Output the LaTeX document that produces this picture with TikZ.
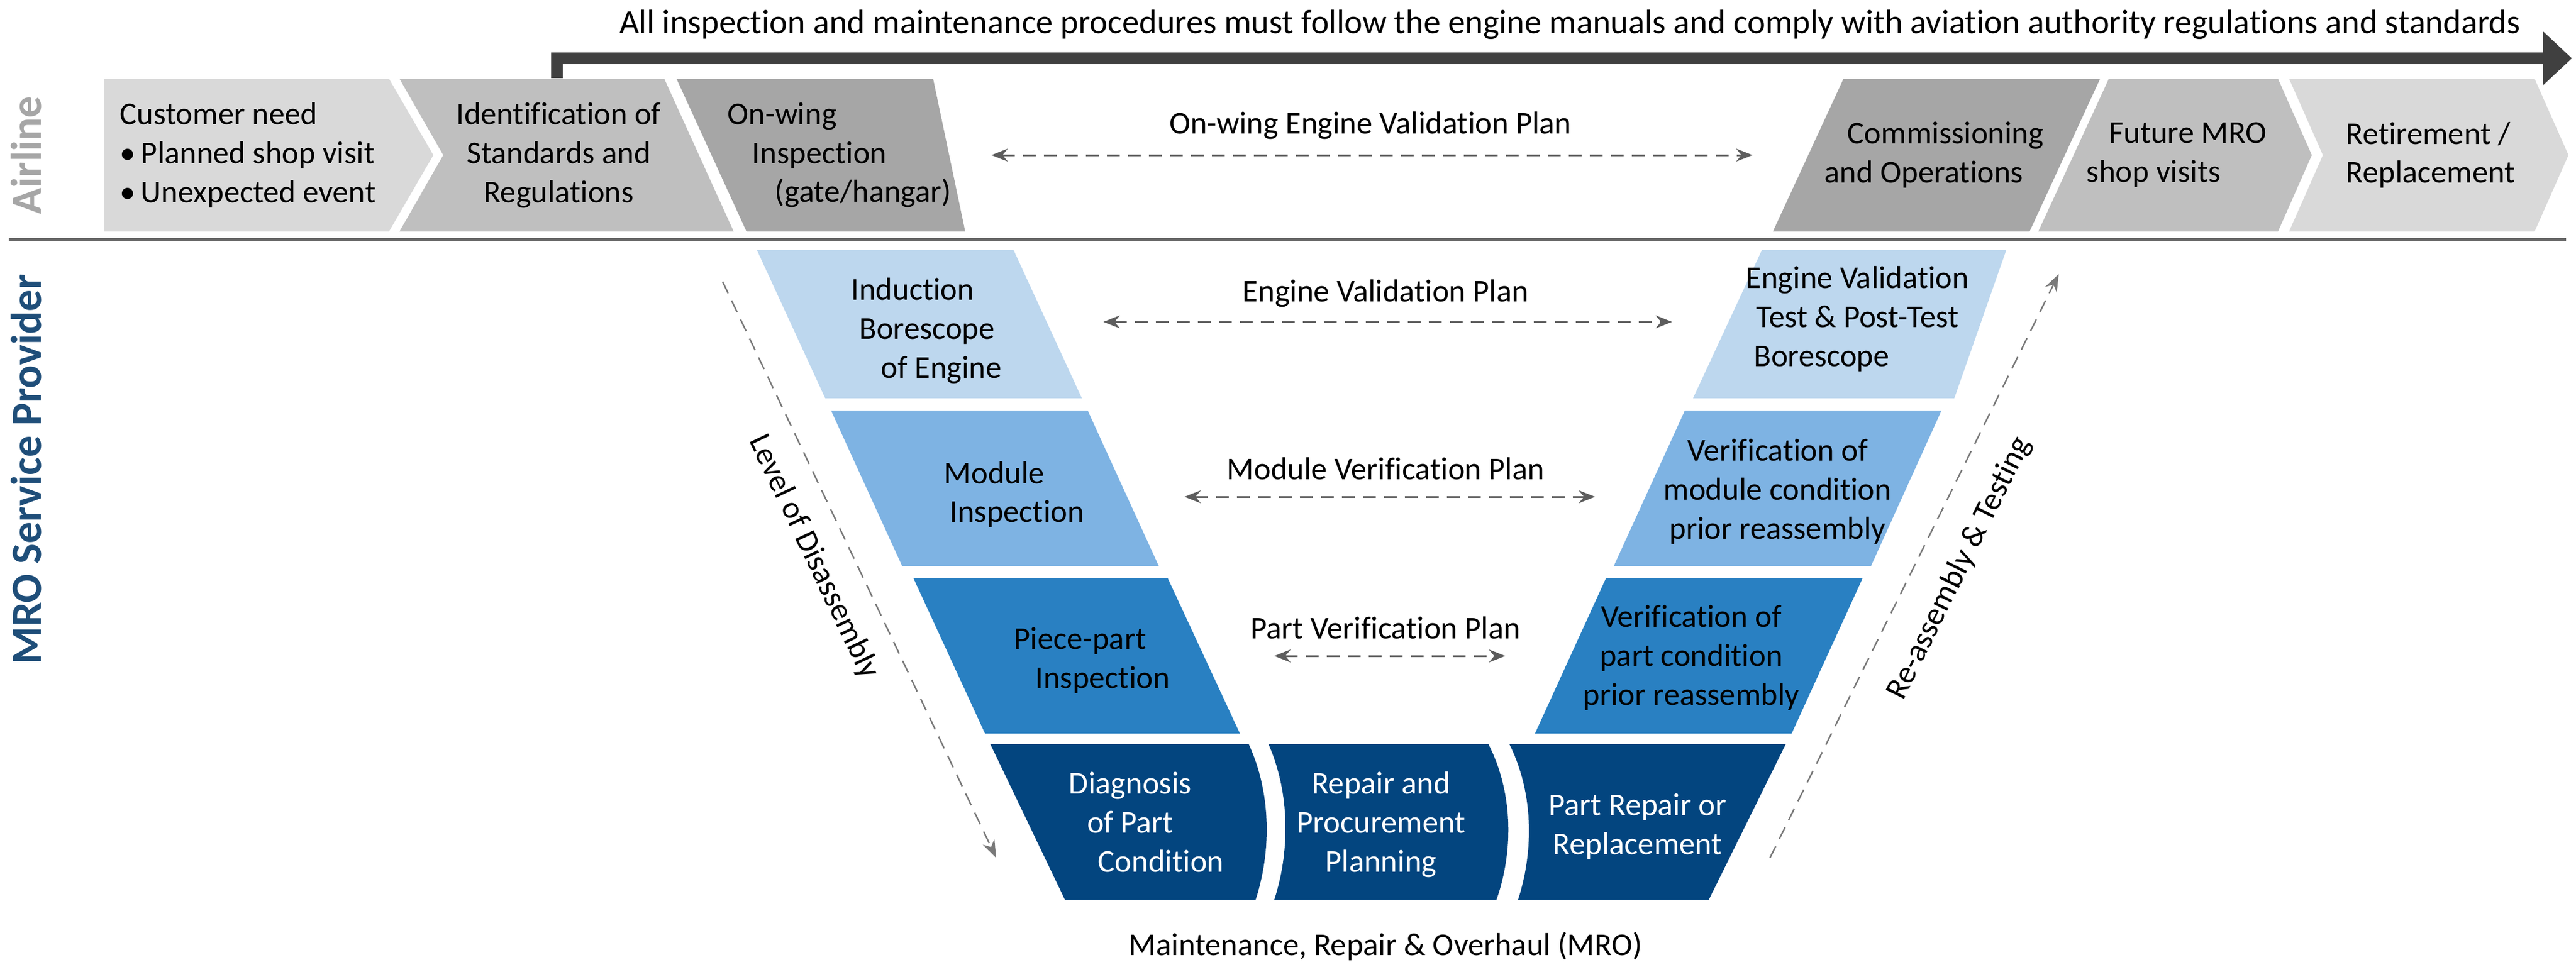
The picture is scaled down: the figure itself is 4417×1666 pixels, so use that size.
\documentclass[tikz,border=0pt]{standalone}
\usepackage{fontspec}
\setmainfont{Carlito}[Ligatures={NoCommon}]
\usetikzlibrary{arrows.meta}
\definecolor{g1}{HTML}{D9D9D9}
\definecolor{g2}{HTML}{BFBFBF}
\definecolor{g3}{HTML}{A6A6A6}
\definecolor{b1}{HTML}{BDD7EE}
\definecolor{b2}{HTML}{7EB3E3}
\definecolor{b3}{HTML}{2980C2}
\definecolor{b4}{HTML}{03457F}
\definecolor{dk}{HTML}{404040}
\definecolor{mro}{HTML}{1F4E79}
\begin{document}
\begin{tikzpicture}[x=0.1mm,y=-0.1mm,
  txt/.style={font=\fontsize{15.5}{19}\selectfont, align=center, inner sep=0pt, text=black},
  wtxt/.style={txt, text=white},
  plan/.style={dashed, draw=dk!85, line width=0.3mm, dash pattern=on 2.2mm off 1.4mm, {Stealth[length=2.8mm,width=2.2mm]}-{Stealth[length=2.8mm,width=2.2mm]}},
  side/.style={dashed, draw=dk!70, line width=0.25mm, dash pattern=on 2.2mm off 1.4mm},
  lane/.style={font=\fontsize{21}{24}\selectfont\bfseries, inner sep=0pt}]
\useasboundingbox (0,0) rectangle (4417,1666);
% top banner
\node[txt, font=\fontsize{16.6}{20}\selectfont] (banner) at (2692,42) {All inspection and maintenance procedures must follow the engine manuals and comply with aviation authority regulations and standards};
\coordinate (bs) at (955,134);
\coordinate (be) at (4410,100);
\draw[dk, line width=2mm, -{Triangle[length=5mm,width=9mm]}] (bs) |- (be);
% lane labels
\node[lane, text=g3, rotate=90] (airline) at (45,266) {Airline};
\node[lane, text=mro, rotate=90] (mrolane) at (45,805) {MRO Service Provider};
\draw[draw=dk!80, line width=0.5mm] (15,410) -- (4400,410);
% airline boxes
\fill[g1] (179,135) -- (667,135) -- (743,266) -- (667,397) -- (179,397) -- cycle;
\fill[g2] (685,135) -- (1139,135) -- (1258,397) -- (685,397) -- (760,266) -- cycle;
\fill[g3] (1160,135) -- (1600,135) -- (1655,397) -- (1280,397) -- cycle;
\fill[g3] (3161,135) -- (3601,135) -- (3480,397) -- (3040,397) -- cycle;
\fill[g2] (3616,135) -- (3906,135) -- (3964,266) -- (3906,397) -- (3495,397) -- cycle;
\fill[g1] (3925,135) -- (4346,135) -- (4404,266) -- (4346,397) -- (3925,397) -- (3983,266) -- cycle;
\node[txt, align=left, anchor=west] (cust) at (205,266) {Customer need\\\textbullet\,Planned shop visit\\\textbullet\,Unexpected event};
\node[txt] (ident) at (958,266) {Identification of\\Standards and\\Regulations};
\node[txt, align=left, anchor=west] (onwing) at (1247,266) {On-wing\\\hspace*{12pt}Inspection\\\hspace*{23pt}(gate/hangar)};
\node[txt, align=right, anchor=east] (comm) at (3505,266) {Commissioning\\and Operations\hspace*{10pt}};
\node[txt, align=left, anchor=west] (future) at (3577,266) {\hspace*{11pt}Future MRO\\shop visits};
\node[txt, align=left, anchor=west] (retire) at (4022,266) {Retirement /\\Replacement};
\node[txt] (owplan) at (2350,215) {On-wing Engine Validation Plan};
\coordinate (ow1) at (1700,266);
\coordinate (ow2) at (3005,266);
\draw[plan] (ow1) -- (ow2);
% V rows
\fill[b1] (1298,429) -- (1738,429) -- (1855,683) -- (1415,683) -- cycle;
\fill[b1] (3021,429) -- (3440,429) -- (3351,683) -- (2903,683) -- cycle;
\fill[b2] (1425,704) -- (1865,704) -- (1987,971) -- (1547,971) -- cycle;
\fill[b2] (2889,704) -- (3329,704) -- (3208,971) -- (2767,971) -- cycle;
\fill[b3] (1566,991) -- (2002,991) -- (2126,1258) -- (1689,1258) -- cycle;
\fill[b3] (2754,991) -- (3194,991) -- (3072,1258) -- (2632,1258) -- cycle;
\fill[b4] (1698,1276) -- (2141,1276) .. controls (2180,1360) and (2180,1460) .. (2153,1543) -- (1826,1543) -- cycle;
\fill[b4] (2175,1276) .. controls (2212,1360) and (2212,1460) .. (2185,1543) -- (2566,1543) .. controls (2595,1460) and (2595,1360) .. (2552,1276) -- cycle;
\fill[b4] (2588,1276) -- (3062,1276) -- (2930,1543) -- (2603,1543) .. controls (2630,1460) and (2630,1360) .. (2588,1276) -- cycle;
\node[txt] (induct) at (1565,567) {Induction\\\hspace*{14pt}Borescope\\\hspace*{28pt}of Engine};
\node[txt] (evt) at (3185,547) {Engine Validation\\Test \& Post-Test\\\hspace*{-35pt}Borescope};
\node[txt] (modi) at (1705,848) {Module\\\hspace*{22pt}Inspection};
\node[txt] (vmod) at (3048,843) {Verification of\\module condition\\prior reassembly};
\node[txt] (piece) at (1852,1133) {Piece-part\\\hspace*{22pt}Inspection};
\node[txt] (vpart) at (2900,1128) {Verification of\\part condition\\prior reassembly};
\node[wtxt] (diag) at (1938,1410) {Diagnosis\\of Part\\\hspace*{30pt}Condition};
\node[wtxt] (repplan) at (2368,1414) {Repair and\\Procurement\\Planning};
\node[wtxt] (partrep) at (2808,1418) {Part Repair or\\Replacement};
% plans
\node[txt] (evp) at (2376,503) {Engine Validation Plan};
\node[txt] (mvp) at (2376,804) {Module Verification Plan};
\node[txt] (pvp) at (2376,1077) {Part Verification Plan};
\coordinate (e1) at (1892,552); \coordinate (e2) at (2867,552);
\coordinate (m1) at (2031,852); \coordinate (m2) at (2735,852);
\coordinate (p1) at (2185,1125); \coordinate (p2) at (2581,1125);
\draw[plan] (e1) -- (e2);
\draw[plan] (m1) -- (m2);
\draw[plan] (p1) -- (p2);
% side arrows
\coordinate (l1) at (1239,483); \coordinate (l2) at (1708,1471);
\draw[side, -{Stealth[length=3mm,width=2.2mm]}] (l1) -- (l2);
\node[txt, rotate=-64.6] (lod) at (1395,955) {Level of Disassembly};
\coordinate (r1) at (3035,1471); \coordinate (r2) at (3530,470);
\draw[side, -{Stealth[length=3mm,width=2.2mm]}] (r1) -- (r2);
\node[txt, rotate=63.7] (rat) at (3360,975) {Re-assembly \& Testing};
\node[txt] (mrotitle) at (2376,1623) {Maintenance, Repair \& Overhaul (MRO)};
\end{tikzpicture}
\end{document}
